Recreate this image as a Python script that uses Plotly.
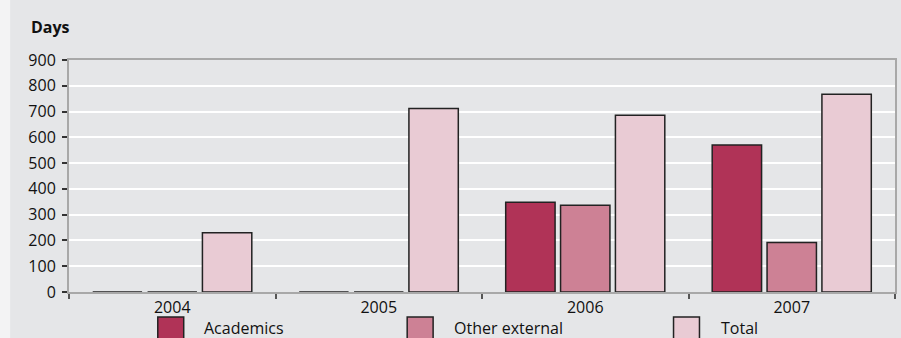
import plotly.graph_objects as go

# Days spent by external contributors, per year
years = ["2004", "2005", "2006", "2007"]
series_names = ["Academics", "Other external", "Total"]
academics = [0, 0, 348, 570]
other_external = [0, 0, 337, 192]
total = [230, 712, 686, 767]
series_values = [academics, other_external, total]
series_colors = ["#b03357", "#cd8195", "#e9cbd4"]
y_ticks = [0, 100, 200, 300, 400, 500, 600, 700, 800, 900]

W, H = 901, 338
L, R, T, B = 69, 4, 60, 46
pw, ph = W - L - R, H - T - B


def px_x(p):
    return (p - L) / pw


def px_y(p):
    return (H - B - p) / ph


font = "Open Sans, Noto Sans, sans-serif"
panel = "#e5e6e8"
fs = 16

fig = go.Figure()
for name, vals, col in zip(series_names, series_values, series_colors):
    fig.add_trace(go.Bar(
        x=years, y=vals, name=name,
        marker=dict(color=col, line=dict(color="#222222", width=1.5)),
        showlegend=False,
    ))

shapes = [
    # panel background (leaves a pale strip at the far left)
    dict(type="rect", xref="paper", yref="paper", layer="below",
         x0=px_x(10), x1=px_x(W + 5), y0=px_y(H + 5), y1=px_y(-5),
         fillcolor=panel, line=dict(width=0)),
]
annotations = [
    dict(text="<b>Days</b>", xref="paper", yref="paper",
         x=px_x(29), y=px_y(27), xanchor="left", yanchor="middle",
         showarrow=False, font=dict(family=font, size=fs, color="#111111")),
]

# legend drawn as large swatches with labels
swatch_left = [158, 408, 675]
text_left = [202, 453, 721]
for name, col, sx, tx in zip(series_names, series_colors, swatch_left, text_left):
    shapes.append(dict(type="rect", xref="paper", yref="paper",
                       x0=px_x(sx), x1=px_x(sx + 26), y0=px_y(H + 10), y1=px_y(317),
                       fillcolor=col, line=dict(color="#222222", width=1.5)))
    annotations.append(dict(text=name, xref="paper", yref="paper",
                            x=px_x(tx), y=px_y(328), xanchor="left", yanchor="middle",
                            showarrow=False,
                            font=dict(family=font, size=fs, color="#111111")))

fig.update_layout(
    width=W, height=H,
    margin=dict(l=L, r=R, t=T, b=B, pad=0),
    paper_bgcolor="#f3f3f4",
    plot_bgcolor="rgba(0,0,0,0)",
    barmode="group",
    bargap=0.203,
    bargroupgap=0.1,
    shapes=shapes,
    annotations=annotations,
    font=dict(family=font, size=fs, color="#111111"),
)
fig.update_xaxes(
    type="category", tickson="boundaries",
    ticks="outside", ticklen=5, tickwidth=1.5, tickcolor="#555555",
    showline=True, linecolor="#a8a8a8", linewidth=2, mirror=True,
    showgrid=False, tickfont=dict(family=font, size=fs, color="#111111"),
)
fig.update_yaxes(
    range=[0, 900], tickvals=y_ticks,
    ticks="outside", ticklen=5, tickwidth=1.5, tickcolor="#333333",
    showline=True, linecolor="#a8a8a8", linewidth=2, mirror=True,
    showgrid=True, gridcolor="#ffffff", gridwidth=1.5,
    zeroline=False, ticklabelstandoff=3,
    tickfont=dict(family=font, size=fs, color="#111111"),
)

fig.write_html("out.html")
